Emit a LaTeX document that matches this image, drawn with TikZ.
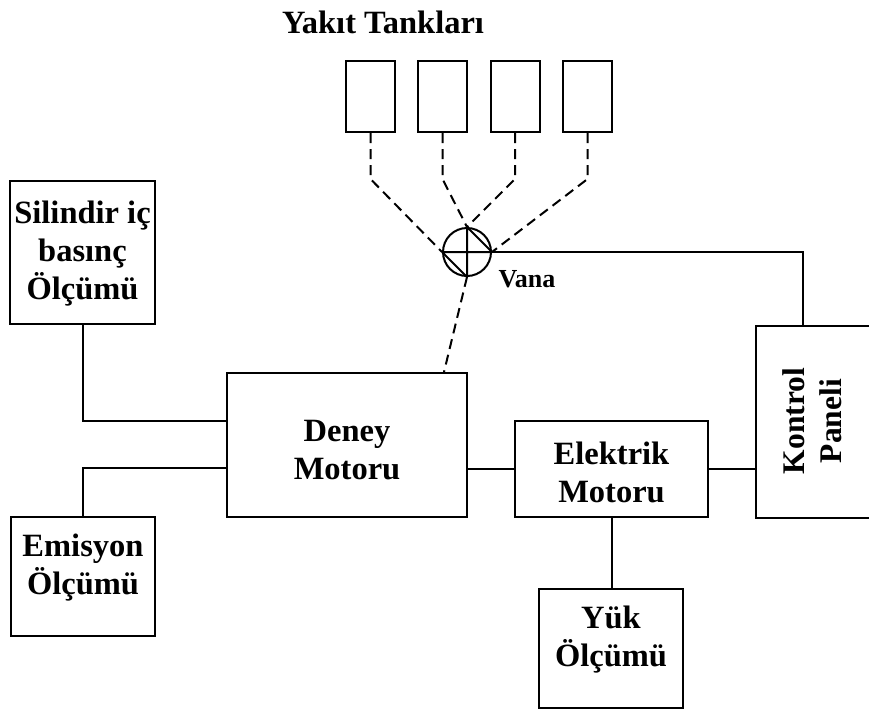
\documentclass[tikz,border=0pt]{standalone}
\usepackage{fontspec}
\setmainfont{Liberation Serif}
\begin{document}
\begin{tikzpicture}[x=1pt,y=-1pt,
  line width=2pt,
  box/.style={draw, rectangle, inner sep=0pt},
  tank/.style={draw, rectangle, minimum width=49, minimum height=71, inner sep=0pt},
  txt/.style={align=center, inner sep=0pt, font=\fontsize{32.5}{38}\selectfont\bfseries},
  dsh/.style={dash pattern=on 10pt off 6pt}
]
\clip (0,0) rectangle (869,710);
\fill[white] (0,0) rectangle (869,710);

\node[txt] (title) at (383,22) {Yakıt Tankları};

\node[tank] (t1) at (370.5,96.5) {};
\node[tank] (t2) at (442.5,96.5) {};
\node[tank] (t3) at (515,96.5) {};
\node[tank] (t4) at (587.5,96.5) {};

\node[draw, circle, minimum size=48, inner sep=0pt] (v) at (467,252) {};
\draw (v.west) -- (v.east) (v.north) -- (v.south) (v.north) -- (v.east) (v.west) -- (v.south);
\node[txt, font=\fontsize{26}{30}\selectfont\bfseries] (vana) at (527,279) {Vana};

\node[box, minimum width=145, minimum height=143] (sil) at (82.5,252.5) {};
\node[txt] (siltxt) at (82.5,254) {Silindir iç\\basınç\\Ölçümü};
\node[box, minimum width=144, minimum height=119] (emi) at (83,576.5) {};
\node[txt] (emitxt) at (83,568) {Emisyon\\Ölçümü};
\node[box, minimum width=240, minimum height=144] (deney) at (347,445) {};
\node[txt] (deneytxt) at (347,450) {Deney\\Motoru};
\node[box, minimum width=193, minimum height=96] (elek) at (611.5,469) {};
\node[txt] (elektxt) at (611.5,472) {Elektrik\\Motoru};
\node[box, minimum width=144, minimum height=119] (yuk) at (611,648.5) {};
\node[txt] (yuktxt) at (611,640) {Yük\\Ölçümü};
\node[box, minimum width=140, minimum height=192, anchor=north west] (ctrl) at (755,325) {};
\node[txt, rotate=90, font=\fontsize{31.5}{37}\selectfont\bfseries] (ctrltxt) at (812,421) {Kontrol\\Paneli};

\draw[dsh] (t1.south) -- ++(0,46) -- (v.west);
\draw[dsh] (t2.south) -- ++(0,46) -- (v.north);
\draw[dsh] (t3.south) -- ++(0,46) -- (v.north);
\draw[dsh] (t4.south) -- ++(0,46) -- (v.east);
\draw[dsh] (v.south) -- ([xshift=-24pt]deney.north east);

\draw (v.east) -| ([xshift=48pt]ctrl.north west);
\draw (sil.south) |- ([yshift=24pt]deney.west);
\draw (emi.north) |- ([yshift=-23pt]deney.west);
\draw (elek.west) -- (elek.west -| deney.east);
\draw (elek.east) -- (elek.east -| ctrl.west);
\draw (elek.south) -- (elek.south |- yuk.north);
\end{tikzpicture}
\end{document}
